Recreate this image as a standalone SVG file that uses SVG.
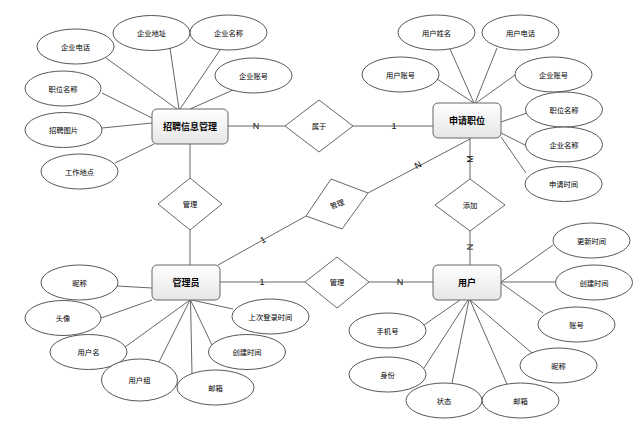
<svg xmlns="http://www.w3.org/2000/svg" width="639" height="433" viewBox="0 0 639 433">
<defs>
<linearGradient id="boxGrad" x1="0" y1="0" x2="0" y2="1">
<stop offset="0" stop-color="#ffffff"/>
<stop offset="1" stop-color="#e6e6e6"/>
</linearGradient>
<style>
.ent rect{fill:url(#boxGrad);stroke:#666;stroke-width:1}
.ent text{font-family:"Noto Sans CJK SC","Liberation Sans",sans-serif;font-size:9px;font-weight:bold;fill:#000;text-anchor:middle;dominant-baseline:central}
.att ellipse{fill:#fff;stroke:#444;stroke-width:0.9}
.att text,.rel text{font-family:"Noto Sans CJK SC","Liberation Sans",sans-serif;font-size:7.3px;fill:#000;text-anchor:middle;dominant-baseline:central}
.rel polygon{fill:#fff;stroke:#555;stroke-width:0.9}
#connectors line{stroke:#555;stroke-width:0.9}
#connectors text{font-family:"Liberation Sans","Noto Sans",sans-serif;font-size:9px;fill:#111;text-anchor:middle;dominant-baseline:central}
</style>
</defs>
<rect width="639" height="433" fill="#fff"/>
<g id="connectors">
<line x1="106" y1="58" x2="177" y2="109"/>
<line x1="170" y1="48" x2="179" y2="109"/>
<line x1="220" y1="50" x2="180" y2="109"/>
<line x1="233" y1="90" x2="190" y2="109"/>
<line x1="102" y1="93" x2="152" y2="118"/>
<line x1="102" y1="128" x2="152" y2="123"/>
<line x1="115" y1="163" x2="154" y2="144"/>
<line x1="228" y1="126" x2="285" y2="126"/>
<line x1="190" y1="144" x2="190" y2="178"/>
<line x1="190" y1="230" x2="190" y2="265"/>
<line x1="353" y1="126" x2="433" y2="126"/>
<line x1="437" y1="79" x2="474" y2="103"/>
<line x1="450" y1="49" x2="474" y2="103"/>
<line x1="497" y1="48" x2="475" y2="103"/>
<line x1="515" y1="75" x2="476" y2="103"/>
<line x1="527" y1="113" x2="501" y2="122"/>
<line x1="527" y1="146" x2="501" y2="133"/>
<line x1="526" y1="173" x2="501" y2="137"/>
<line x1="470" y1="138" x2="470" y2="179"/>
<line x1="368" y1="193" x2="470" y2="139"/>
<line x1="218" y1="265" x2="306" y2="216"/>
<line x1="220" y1="282" x2="305" y2="282"/>
<line x1="117" y1="286" x2="152" y2="288"/>
<line x1="101" y1="318" x2="152" y2="300"/>
<line x1="125" y1="347" x2="190" y2="300"/>
<line x1="159" y1="362" x2="190" y2="300"/>
<line x1="192" y1="374" x2="190.5" y2="300"/>
<line x1="212" y1="345" x2="190.5" y2="300"/>
<line x1="233" y1="309" x2="191.5" y2="300"/>
<line x1="369" y1="282" x2="433" y2="282"/>
<line x1="470" y1="230" x2="470" y2="265"/>
<line x1="553" y1="245" x2="501" y2="282"/>
<line x1="556" y1="282" x2="501" y2="282"/>
<line x1="543" y1="313" x2="501" y2="283"/>
<line x1="532" y1="353" x2="470" y2="300"/>
<line x1="507" y1="384" x2="470" y2="300"/>
<line x1="452" y1="383" x2="469" y2="300"/>
<line x1="424" y1="368" x2="468" y2="300"/>
<line x1="424" y1="325" x2="460" y2="300"/>
<text x="256" y="126">N</text>
<text x="394" y="126">1</text>
<text x="470" y="159" transform="rotate(-90 470 159)">M</text>
<text x="470" y="247" transform="rotate(90 470 247)">N</text>
<text x="418" y="165" transform="rotate(-28 418 165)">N</text>
<text x="263" y="240" transform="rotate(-29 263 240)">1</text>
<text x="262" y="282">1</text>
<text x="400" y="282">N</text>
</g>
<g id="rel_gl_top" class="rel"><polygon points="190,178 222,204 190,230 158,204"/><text x="190" y="204">管理</text></g>
<g id="rel_sy" class="rel"><polygon points="319,100 353,126 319,152 285,126"/><text x="319" y="126">属于</text></g>
<g id="rel_gl_mid" class="rel"><polygon points="331,179 368,193 342,229 306,216"/><text x="337" y="204" transform="rotate(-20 337 204)">管理</text></g>
<g id="rel_tj" class="rel"><polygon points="470,179 505,205 470,231 435,205"/><text x="470" y="205">添加</text></g>
<g id="rel_gl_right" class="rel"><polygon points="337,257 369,282 337,308 305,282"/><text x="337" y="282">管理</text></g>
<g id="ent_zpxx" class="ent"><rect x="152" y="109" width="76" height="35" rx="5"/><text x="190" y="126.5">招聘信息管理</text></g>
<g id="ent_sqzw" class="ent"><rect x="433" y="103" width="68" height="35" rx="5"/><text x="467" y="120.5">申请职位</text></g>
<g id="ent_gly" class="ent"><rect x="152" y="265" width="68" height="35" rx="5"/><text x="186" y="282.5">管理员</text></g>
<g id="ent_yh" class="ent"><rect x="433" y="265" width="68" height="35" rx="5"/><text x="467" y="282.5">用户</text></g>
<g id="a_zp_qydh" class="att"><ellipse cx="75.5" cy="46.5" rx="38.5" ry="17.5"/><text x="75.5" y="46.5">企业电话</text></g>
<g id="a_zp_qydz" class="att"><ellipse cx="151.5" cy="33" rx="38.5" ry="17.5"/><text x="151.5" y="33">企业地址</text></g>
<g id="a_zp_qymc" class="att"><ellipse cx="228.5" cy="32.5" rx="38.5" ry="17.5"/><text x="228.5" y="32.5">企业名称</text></g>
<g id="a_zp_qyzh" class="att"><ellipse cx="253.5" cy="75.5" rx="38.5" ry="17.5"/><text x="253.5" y="75.5">企业账号</text></g>
<g id="a_zp_zwmc" class="att"><ellipse cx="63" cy="88.5" rx="38" ry="17.5"/><text x="63" y="88.5">职位名称</text></g>
<g id="a_zp_zptp" class="att"><ellipse cx="63.5" cy="130" rx="38.5" ry="17.5"/><text x="63.5" y="130">招聘图片</text></g>
<g id="a_zp_gzdd" class="att"><ellipse cx="79.5" cy="171.5" rx="38.5" ry="17.5"/><text x="79.5" y="171.5">工作地点</text></g>
<g id="a_sq_yhxm" class="att"><ellipse cx="436.5" cy="32.5" rx="38.5" ry="17.5"/><text x="436.5" y="32.5">用户姓名</text></g>
<g id="a_sq_yhdh" class="att"><ellipse cx="520.5" cy="32.5" rx="38.5" ry="17.5"/><text x="520.5" y="32.5">用户电话</text></g>
<g id="a_sq_yhzh" class="att"><ellipse cx="400.5" cy="74.5" rx="38.5" ry="17.5"/><text x="400.5" y="74.5">用户账号</text></g>
<g id="a_sq_qyzh" class="att"><ellipse cx="553.5" cy="74.5" rx="38.5" ry="17.5"/><text x="553.5" y="74.5">企业账号</text></g>
<g id="a_sq_zwmc" class="att"><ellipse cx="564" cy="109.5" rx="38.5" ry="17.5"/><text x="564" y="109.5">职位名称</text></g>
<g id="a_sq_qymc" class="att"><ellipse cx="564" cy="144.5" rx="38.5" ry="17.5"/><text x="564" y="144.5">企业名称</text></g>
<g id="a_sq_sqsj" class="att"><ellipse cx="563.5" cy="184" rx="38.5" ry="17.5"/><text x="563.5" y="184">申请时间</text></g>
<g id="a_gl_nc" class="att"><ellipse cx="79.5" cy="282.5" rx="38.5" ry="17.5"/><text x="79.5" y="282.5">昵称</text></g>
<g id="a_gl_tx" class="att"><ellipse cx="63" cy="318" rx="38" ry="17.5"/><text x="63" y="318">头像</text></g>
<g id="a_gl_yhm" class="att"><ellipse cx="88.5" cy="352" rx="38.5" ry="17.5"/><text x="88.5" y="352">用户名</text></g>
<g id="a_gl_yhz" class="att"><ellipse cx="139.5" cy="380" rx="38" ry="21"/><text x="139.5" y="380">用户组</text></g>
<g id="a_gl_yx" class="att"><ellipse cx="215.5" cy="387.5" rx="38.5" ry="17.5"/><text x="215.5" y="387.5">邮箱</text></g>
<g id="a_gl_cjsj" class="att"><ellipse cx="247" cy="352" rx="38.5" ry="17.5"/><text x="247" y="352">创建时间</text></g>
<g id="a_gl_scdl" class="att"><ellipse cx="270.5" cy="316.5" rx="38.5" ry="17.5"/><text x="270.5" y="316.5">上次登录时间</text></g>
<g id="a_yh_gxsj" class="att"><ellipse cx="591.5" cy="240.5" rx="38.5" ry="17.5"/><text x="591.5" y="240.5">更新时间</text></g>
<g id="a_yh_cjsj" class="att"><ellipse cx="594" cy="282.5" rx="38.5" ry="17.5"/><text x="594" y="282.5">创建时间</text></g>
<g id="a_yh_zh" class="att"><ellipse cx="576.5" cy="324.5" rx="38.5" ry="17.5"/><text x="576.5" y="324.5">账号</text></g>
<g id="a_yh_nc" class="att"><ellipse cx="558.5" cy="365.5" rx="38.5" ry="17.5"/><text x="558.5" y="365.5">昵称</text></g>
<g id="a_yh_yx" class="att"><ellipse cx="520.5" cy="400.5" rx="38.5" ry="17.5"/><text x="520.5" y="400.5">邮箱</text></g>
<g id="a_yh_zt" class="att"><ellipse cx="444" cy="400.5" rx="38" ry="17.5"/><text x="444" y="400.5">状态</text></g>
<g id="a_yh_sf" class="att"><ellipse cx="387.5" cy="374.5" rx="38.5" ry="17.5"/><text x="387.5" y="374.5">身份</text></g>
<g id="a_yh_sjh" class="att"><ellipse cx="387.5" cy="330.5" rx="38.5" ry="17.5"/><text x="387.5" y="330.5">手机号</text></g>
</svg>
